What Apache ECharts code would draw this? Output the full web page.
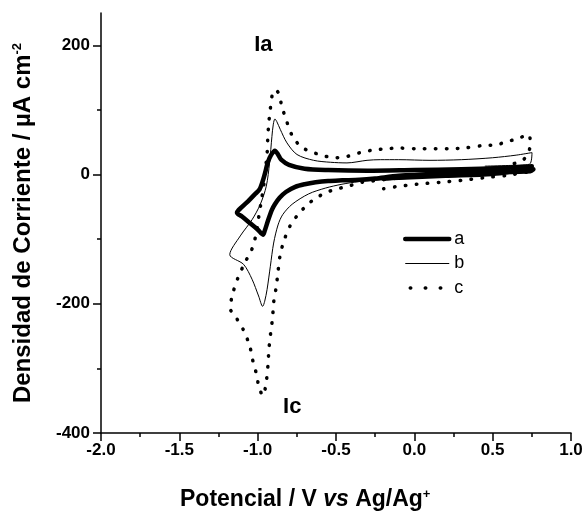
<!DOCTYPE html>
<html><head><meta charset="utf-8">
<script src="https://cdn.jsdelivr.net/npm/echarts@6/dist/echarts.min.js"></script>
<style>html,body{margin:0;padding:0;background:#fff}#c{width:586px;height:514px}</style>
</head><body><div id="c"></div>
<script>
// Curve a (thick): initial sweep, cathodic sweep, switching, anodic sweep
const aX = [-0.2,-0.1,0.2,0.5,0.76, 0.74,0.5,0.2,-0.1,-0.25,-0.35,-0.46,-0.55,-0.63,-0.7,-0.76,-0.82,-0.86,-0.89,-0.91,-0.935,-0.955,-0.966,-1.0,-1.05,-1.1,-1.132,-1.1,-1.06,-1.02,-0.988,-0.965,-0.95,-0.935,-0.915,-0.89,-0.87,-0.85,-0.8,-0.7,-0.55,-0.3,0.0,0.3,0.55,0.7,0.75];
const aY = [-6,-5,-2,1,8, 5,3,1,-2,-6,-8,-9,-10,-12,-15,-19,-27,-36,-46,-55,-72,-87,-93,-85,-75,-65,-59,-50,-41,-31,-23,-8,5,19,30,37,31,23,15,9,7,6,7,8,10,12,13];
// Curve b (thin)
const bX = [-0.2,-0.1,0.1,0.3,0.5,0.7,0.75, 0.5,0.2,0.0,-0.25,-0.356,-0.462,-0.568,-0.675,-0.78,-0.84,-0.87,-0.898,-0.919,-0.94,-0.955,-0.968,-0.994,-1.036,-1.09,-1.178,-1.111,-1.036,-0.983,-0.945,-0.924,-0.909,-0.9,-0.89,-0.878,-0.856,-0.813,-0.749,-0.643,-0.536,-0.43,-0.302,-0.217,-0.1,0.1,0.3,0.5,0.65,0.751,0.735,0.6,0.45];
const bY = [-9,-7,-4,-2,1,4,4, 0,-3,-5,-9,-11,-15,-21,-30,-46,-62,-78,-106,-142,-178,-196,-204,-188,-162,-139,-124,-95,-70,-46,-18,18,59,78,86,82,70,49,31,22,19,18,22,23,23,22,23,26,30,34,16,14,13];
// Curve c (dotted)
const cX = [-0.196,-0.122,0.017,0.166,0.3,0.442,0.6,0.75, 0.4,0.0,-0.27,-0.334,-0.409,-0.473,-0.543,-0.611,-0.675,-0.739,-0.792,-0.83,-0.856,-0.87,-0.881,-0.898,-0.905,-0.917,-0.928,-0.934,-0.943,-0.955,-0.966,-0.994,-1.004,-1.03,-1.051,-1.09,-1.136,-1.175,-1.16,-1.126,-1.083,-1.036,-1.009,-0.994,-0.979,-0.962,-0.951,-0.94,-0.936,-0.93,-0.919,-0.905,-0.885,-0.865,-0.845,-0.813,-0.775,-0.717,-0.643,-0.579,-0.505,-0.43,-0.345,-0.26,-0.174,-0.1,0.017,0.23,0.314,0.442,0.527,0.587,0.655,0.729,0.74,0.697,0.6];
const cY = [-22,-19,-15,-12,-9,-5,-1,5, 2,-3,-10,-12,-17,-21,-26,-34,-45,-61,-79,-101,-124,-150,-173,-198,-222,-245,-270,-294,-317,-335,-342,-327,-312,-289,-265,-241,-222,-207,-185,-160,-137,-115,-91,-67,-44,-18,8,31,54,77,102,125,131,125,105,81,58,42,34,29,26,28,34,38,40,41,40,40,41,45,46,51,55,62,46,23,15];

const seriesNames = ['a','b','c'];
const yTicks = [-400,-200,0,200];
const yMinorTicks = [-300,-100,100];
const annText = ['Ia','Ic'];
const annX = [-0.964,-0.779];
const annY = [201,-360];

const zip = (xs, ys) => xs.map((x,i)=>[x, ys[i]]);
const FONT = 'Liberation Sans, Arial, sans-serif';

const chart = echarts.init(document.getElementById('c'), null, {renderer:'canvas'});
const dotType = [0.5, 10.5];
const hidden = {color:'rgba(0,0,0,0)',borderWidth:0,opacity:0};
const option = {
  animation:false,
  backgroundColor:'#fff',
  grid:{left:101,right:15,top:13,bottom:81,containLabel:false},
  xAxis:{type:'value',min:-2,max:1,interval:0.5,
    axisLine:{onZero:false,lineStyle:{color:'#000',width:1.5}},
    axisTick:{inside:false,length:8,lineStyle:{color:'#000',width:1.5}},
    minorTick:{show:true,splitNumber:2,length:4,lineStyle:{color:'#000',width:1.5}},
    splitLine:{show:false},
    axisLabel:{margin:9,color:'#000',fontFamily:FONT,fontWeight:'bold',fontSize:17,
      formatter:v=>v.toFixed(1)}
  },
  yAxis:[{type:'value',min:-400,max:250,interval:200,
    axisLine:{onZero:false,lineStyle:{color:'#000',width:1.5}},
    axisTick:{inside:false,length:8,customValues:yTicks,lineStyle:{color:'#000',width:1.5}},
    splitLine:{show:false},
    axisLabel:{margin:11,color:'#000',fontFamily:FONT,fontWeight:'bold',fontSize:17,customValues:yTicks},
    name:'Densidad de Corriente / µA cm{sup|-2}',
    nameLocation:'middle',nameGap:66,
    nameTextStyle:{color:'#000',fontFamily:FONT,fontWeight:'bold',fontSize:24,
      rich:{sup:{fontSize:13,fontWeight:'bold',fontFamily:FONT,verticalAlign:'top',color:'#000'}}}
  },{type:'value',min:-400,max:250,position:'left',offset:0,
    axisLine:{show:false,onZero:false},
    axisTick:{show:true,inside:false,length:4,customValues:yMinorTicks,lineStyle:{color:'#000',width:1.5}},
    axisLabel:{show:false},splitLine:{show:false}
  }],
  legend:{orient:'vertical',left:403,top:230,padding:0,itemWidth:44,itemHeight:14,itemGap:6.5,
    textStyle:{fontFamily:FONT,fontSize:18,color:'#000'},
    data:[
      {name:'a',itemStyle:hidden,lineStyle:{width:4.5,cap:'round'}},
      {name:'b',itemStyle:hidden,lineStyle:{width:1}},
      {name:'c',itemStyle:hidden,lineStyle:{width:3.5,type:[0.5,14.5],dashOffset:10,cap:'round'}}
    ]},
  series:[
    {name:seriesNames[0],type:'line',data:zip(aX,aY),symbol:'none',smooth:0.3,z:5,
      lineStyle:{color:'#000',width:4.5,cap:'round',join:'round'},itemStyle:{color:'#000'}},
    {name:seriesNames[1],type:'line',data:zip(bX,bY),symbol:'none',smooth:0.3,z:4,
      lineStyle:{color:'#000',width:1,join:'round'},itemStyle:{color:'#000'}},
    {name:seriesNames[2],type:'line',data:zip(cX,cY),symbol:'none',smooth:0.3,z:3,
      lineStyle:{color:'#000',width:3.5,type:dotType,cap:'round'},itemStyle:{color:'#000'}}
  ]
};
chart.setOption(option);
const g = annText.map((t,i)=>{
  const p = chart.convertToPixel({xAxisIndex:0,yAxisIndex:0},[annX[i],annY[i]]);
  return {type:'text',x:p[0],y:p[1],style:{text:t,fontFamily:FONT,fontWeight:'bold',fontSize:22,fill:'#000',align:'center',verticalAlign:'middle'}};
});
g.push({type:'text',left:180,top:488,style:{
  text:'Potencial / V {i|vs} Ag/Ag{sup|+}',fontFamily:FONT,fontWeight:'bold',fontSize:23,fill:'#000',
  rich:{i:{fontStyle:'italic',fontWeight:'bold',fontFamily:FONT,fontSize:23,fill:'#000'},
        sup:{fontSize:13,fontWeight:'bold',fontFamily:FONT,verticalAlign:'top',fill:'#000'}}}});
chart.setOption({graphic:g});
</script></body></html>
